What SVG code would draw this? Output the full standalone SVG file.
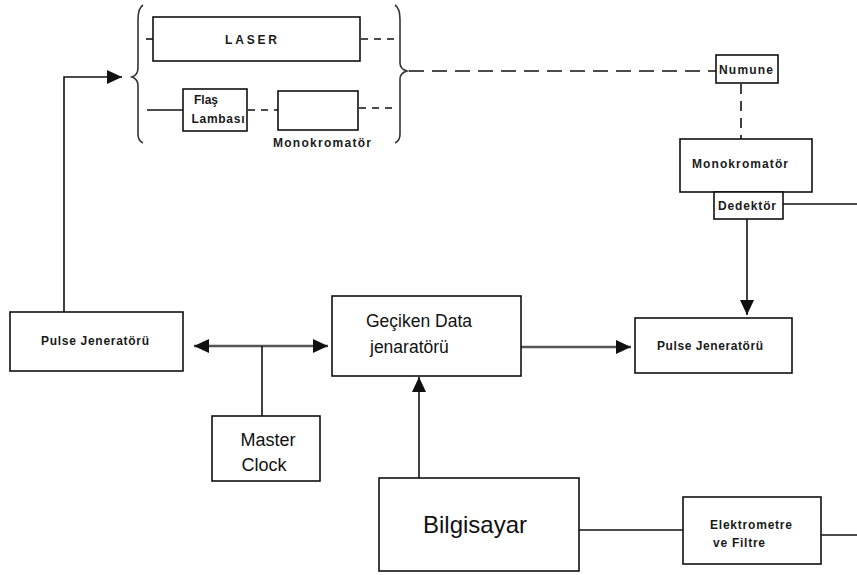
<svg xmlns="http://www.w3.org/2000/svg" width="857" height="575" viewBox="0 0 857 575">
<style>
.box{fill:#fff;stroke:#111;stroke-width:1.6}
.ln{fill:none;stroke:#111;stroke-width:1.6}
.gl{fill:none;stroke:#555;stroke-width:2.6}
.ds{fill:none;stroke:#111;stroke-width:1.6;stroke-dasharray:7 6}
.dl{fill:none;stroke:#111;stroke-width:1.6;stroke-dasharray:15 8}
.br{fill:none;stroke:#333;stroke-width:1.6}
.s{font-family:"Liberation Sans",Arial,sans-serif;font-size:12px;font-weight:bold;fill:#1a1a1a}
.b{font-family:"Liberation Sans",Arial,sans-serif;fill:#111}
</style>
<defs>
<marker id="ah" markerUnits="userSpaceOnUse" markerWidth="16" markerHeight="14" refX="15" refY="7" orient="auto-start-reverse">
<path d="M0,0 L15,7 L0,14 Z" fill="#111"/>
</marker>
</defs>
<g id="connectors">
<polyline class="ln" points="64,312 64,77 122,77" marker-end="url(#ah)"/>
<line class="ln" x1="146" y1="39" x2="153" y2="39"/>
<line class="ds" x1="361" y1="39" x2="395" y2="39"/>
<line class="ln" x1="147" y1="110" x2="183" y2="110"/>
<line class="ds" x1="248" y1="110" x2="278" y2="110"/>
<line class="ds" x1="359" y1="108" x2="395" y2="108"/>
<line class="dl" x1="409" y1="71" x2="716" y2="71"/>
<line class="ds" x1="741" y1="84" x2="741" y2="139" style="stroke-dasharray:10 7"/>
<line class="ln" x1="783" y1="204" x2="857" y2="204"/>
<line class="ln" x1="747" y1="219" x2="747" y2="315" marker-end="url(#ah)"/>
<line class="gl" x1="521" y1="347" x2="631" y2="347" marker-end="url(#ah)"/>
<line class="gl" x1="194" y1="346" x2="328" y2="346" marker-start="url(#ah)" marker-end="url(#ah)"/>
<line class="ln" x1="262" y1="346" x2="262" y2="416"/>
<line class="ln" x1="419" y1="478" x2="419" y2="377" marker-end="url(#ah)"/>
<line class="ln" x1="579" y1="530" x2="683" y2="530"/>
<line class="ln" x1="821" y1="535" x2="857" y2="535"/>
</g>
<g id="brace-left"><path class="br" d="M143,5 Q138,8 138,20 L138,68 Q138,75 132,77 Q138,79 138,86 L138,134 Q138,141 143,143"/></g>
<g id="brace-right"><path class="br" d="M395,5 Q400,8 400,20 L400,63 Q400,69 407,71 Q400,73 400,79 L400,134 Q400,141 395,143"/></g>
<g id="laser"><rect class="box" x="153" y="17" width="207" height="44"/><text class="s" x="251" y="44" text-anchor="middle" font-size="13" textLength="52" lengthAdjust="spacing">LASER</text></g>
<g id="flas-lambasi"><rect class="box" x="183" y="89" width="64" height="42"/><text class="s" x="206" y="104" text-anchor="middle">Flaş</text><text class="s" x="218" y="123" text-anchor="middle" textLength="53" lengthAdjust="spacing">Lambası</text></g>
<g id="monokromator-1"><rect class="box" x="278" y="91" width="80" height="39"/><text class="s" x="322" y="147" text-anchor="middle" textLength="98" lengthAdjust="spacing">Monokromatör</text></g>
<g id="numune"><rect class="box" x="716" y="55" width="62" height="28"/><text class="s" x="746" y="74" text-anchor="middle" textLength="54" lengthAdjust="spacing">Numune</text></g>
<g id="monokromator-2"><rect class="box" x="680" y="139" width="132" height="53"/><text class="s" x="740" y="168" text-anchor="middle" textLength="96" lengthAdjust="spacing">Monokromatör</text></g>
<g id="dedektor"><rect class="box" x="714" y="192" width="69" height="27"/><text class="s" x="747" y="210" text-anchor="middle" font-weight="normal" textLength="58" lengthAdjust="spacing" font-size="13">Dedektör</text></g>
<g id="pulse-left"><rect class="box" x="10" y="312" width="173" height="59"/><text class="s" x="95" y="345" text-anchor="middle" textLength="108" lengthAdjust="spacing">Pulse Jeneratörü</text></g>
<g id="geciken"><rect class="box" x="332" y="296" width="189" height="80"/><text class="b" x="366" y="327" font-size="17.5">Geçiken Data</text><text class="b" x="370" y="353" font-size="17.5">jenaratörü</text></g>
<g id="pulse-right"><rect class="box" x="635" y="318" width="157" height="55"/><text class="s" x="710" y="350" text-anchor="middle" textLength="106" lengthAdjust="spacing">Pulse Jeneratörü</text></g>
<g id="master-clock"><rect class="box" x="212" y="416" width="108" height="65"/><text class="b" x="268" y="446" font-size="18" text-anchor="middle">Master</text><text class="b" x="264" y="471" font-size="18" text-anchor="middle">Clock</text></g>
<g id="bilgisayar"><rect class="box" x="379" y="478" width="200" height="93"/><text class="b" x="475" y="533" font-size="24" text-anchor="middle">Bilgisayar</text></g>
<g id="elektrometre"><rect class="box" x="683" y="497" width="138" height="67"/><text class="s" x="751" y="529" text-anchor="middle" textLength="82" lengthAdjust="spacing">Elektrometre</text><text class="s" x="713" y="547" textLength="52" lengthAdjust="spacing">ve Filtre</text></g>
</svg>
